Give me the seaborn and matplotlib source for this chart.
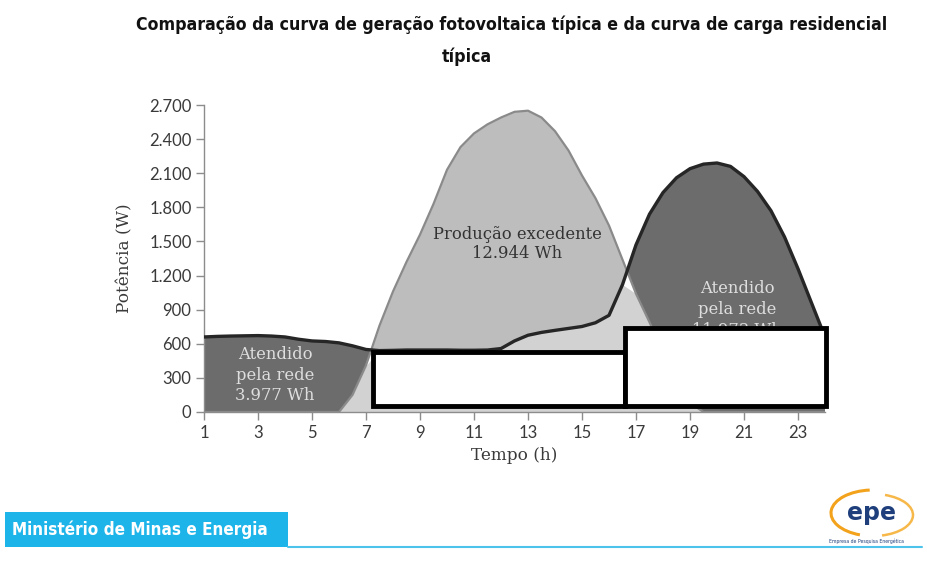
import numpy as np
import pandas as pd
import seaborn as sns
import matplotlib
matplotlib.use("Agg")
import matplotlib.pyplot as plt
from matplotlib.patches import Rectangle, Arc
from matplotlib.ticker import FuncFormatter

# ---------------- data ----------------
hours = [1, 1.5, 2, 2.5, 3, 3.5, 4, 4.5, 5, 5.5, 6, 6.5, 7, 7.5, 8, 8.5, 9, 9.5,
         10, 10.5, 11, 11.5, 12, 12.5, 13, 13.5, 14, 14.5, 15, 15.5, 16, 16.5,
         17, 17.5, 18, 18.5, 19, 19.5, 20, 20.5, 21, 21.5, 22, 22.5, 23, 23.5, 24]
load_w = [660, 665, 668, 670, 672, 668, 660, 640, 625, 620, 608, 582, 550, 540,
          542, 545, 545, 545, 545, 543, 543, 545, 558, 625, 675, 700, 718, 735,
          752, 785, 850, 1120, 1470, 1740, 1930, 2060, 2140, 2180, 2190, 2160,
          2070, 1940, 1770, 1540, 1260, 960, 660]
pv_w = [0, 0, 0, 0, 0, 0, 0, 0, 0, 0, 0, 150, 410, 760, 1060, 1320, 1560, 1830,
        2130, 2330, 2450, 2530, 2590, 2640, 2650, 2590, 2470, 2300, 2080, 1880,
        1640, 1340, 1040, 790, 520, 280, 80, 0, 0, 0, 0, 0, 0, 0, 0, 0, 0]
x_ticks = [1, 3, 5, 7, 9, 11, 13, 15, 17, 19, 21, 23]
y_ticks = [0, 300, 600, 900, 1200, 1500, 1800, 2100, 2400, 2700]

title_line1 = "Comparação da curva de geração fotovoltaica típica e da curva de carga residencial"
title_line2 = "típica"
label_grid_left = "Atendido\npela rede\n3.977 Wh"
label_excess = "Produção excedente\n12.944 Wh"
label_grid_right = "Atendido\npela rede\n11.973 Wh"
footer_text = "Ministério de Minas e Energia"

# ---------------- figure ----------------
sns.set_theme(style="white")
plt.rcParams["font.family"] = ["DejaVu Sans"]

W, H = 928, 564
fig = plt.figure(figsize=(W / 100, H / 100), dpi=100)
fig.patch.set_facecolor("white")

def fx(px):
    return px / W

def fy(py):
    return 1 - py / H

ax = fig.add_axes([fx(204), fy(412), (825 - 204) / W, (412 - 105) / H])
ax.set_facecolor("white")

df = pd.DataFrame({"hora": hours, "carga": load_w, "pv": pv_w})
x = df["hora"].to_numpy(float)
load = df["carga"].to_numpy(float)
pv = df["pv"].to_numpy(float)

# self-consumption (under both curves)
ax.fill_between(x, 0, np.minimum(pv, load), color="#d2d2d2", lw=0, zorder=1)
# excess production
ax.fill_between(x, load, pv, where=pv >= load, interpolate=True,
                color="#bdbdbd", lw=0, zorder=1)
# served by grid
ax.fill_between(x, pv, load, where=load >= pv, interpolate=True,
                color="#6c6c6c", lw=0, zorder=1)

long = pd.concat([
    pd.DataFrame({"hora": x, "W": pv, "serie": "Geração"}),
    pd.DataFrame({"hora": x, "W": load, "serie": "Carga"}),
])
sns.lineplot(data=long[long["serie"] == "Geração"], x="hora", y="W",
             color="#8a8a8a", lw=1.6, ax=ax, legend=False, zorder=2)
sns.lineplot(data=long[long["serie"] == "Carga"], x="hora", y="W",
             color="#262626", lw=2.4, ax=ax, legend=False, zorder=3)

ax.set_xlim(1, 24)
ax.set_ylim(0, 2700)
ax.set_xticks(x_ticks)
ax.set_yticks(y_ticks)
ax.yaxis.set_major_formatter(FuncFormatter(lambda v, p: f"{int(v):,}".replace(",", ".")))
for s in ["top", "right"]:
    ax.spines[s].set_visible(False)
for s in ["left", "bottom"]:
    ax.spines[s].set_color("#8c8c8c")
    ax.spines[s].set_linewidth(1.0)
ax.tick_params(axis="both", which="major", direction="out", length=6, width=1,
               color="#8c8c8c", labelsize=12, labelcolor="#3a3a3a", pad=3,
               bottom=True, left=True)
for lab in ax.get_xticklabels() + ax.get_yticklabels():
    lab.set_family(["Lato", "DejaVu Sans"])

ax.set_xlabel("Tempo (h)", family=["DejaVu Serif"], fontsize=12.2, color="#3a3a3a", labelpad=5)
ax.set_ylabel("Potência (W)", family=["DejaVu Serif"], fontsize=12.2, color="#3a3a3a", labelpad=11)
ax.grid(False)

# area labels
ax.text(3.63, 325, label_grid_left, ha="center", va="center", color="#dedede",
        family=["DejaVu Serif"], fontsize=11.8, linespacing=1.27, zorder=4)
ax.text(12.6, 1478, label_excess, ha="center", va="center", color="#333333",
        family=["DejaVu Serif"], fontsize=11.8, linespacing=1.2, zorder=4)
ax.text(20.74, 900, label_grid_right, ha="center", va="center", color="#dedede",
        family=["DejaVu Serif"], fontsize=11.8, linespacing=1.3, zorder=4)

# white masking boxes (as in the reference)
for (x0, y0, x1, y1) in [(373, 352, 625, 406), (625, 328, 826, 406)]:
    ax.add_patch(Rectangle((fx(x0), fy(y1)), fx(x1) - fx(x0), fy(y0) - fy(y1),
                           transform=fig.transFigure, clip_on=False,
                           facecolor="white", edgecolor="black", lw=3.5, zorder=10))

# title
title_font = ["DejaVu Sans"]
t1 = fig.text(fx(512), fy(25), title_line1, ha="center", va="center",
              fontsize=12.5, weight="bold", family=title_font, color="#111111",
              fontstretch="condensed")
t2 = fig.text(fx(467), fy(57), title_line2, ha="center", va="center",
              fontsize=12.5, weight="bold", family=title_font, color="#111111",
              fontstretch="condensed")
fig.canvas.draw()
r = fig.canvas.get_renderer()
wpx = t1.get_window_extent(r).width
scale = 751 / wpx
t1.set_fontsize(12.5 * scale)
t2.set_fontsize(12.5 * scale)

# footer
ax.add_patch(Rectangle((fx(5), fy(547)), fx(288) - fx(5), fy(512) - fy(547),
                       transform=fig.transFigure, clip_on=False,
                       facecolor="#1db4ea", edgecolor="none", zorder=10))
fig.add_artist(plt.Line2D([fx(288), fx(922)], [fy(547), fy(547)],
                          color="#4bc3ea", lw=1.5))
ft = fig.text(fx(12), fy(530), footer_text, ha="left", va="center",
              color="white", weight="bold", family=title_font, fontsize=12,
              fontstretch="condensed")
fig.canvas.draw()
fw = ft.get_window_extent(fig.canvas.get_renderer()).width
ft.set_fontsize(12 * 256 / fw)

# epe logo
fig.add_artist(Arc((fx(873), fy(513)), fx(84), 46 / H, theta1=95, theta2=250,
                   color="#f3a21c", lw=2.2, transform=fig.transFigure))
fig.add_artist(Arc((fx(873), fy(515)), fx(80), 42 / H, theta1=-75, theta2=70,
                   color="#f7b84a", lw=1.8, transform=fig.transFigure))
fig.text(fx(872), fy(513), "epe", ha="center", va="center", color="#1e3f7c",
         fontsize=17, weight="bold", family=["DejaVu Sans"])
fig.text(fx(866), fy(541), "Empresa de Pesquisa Energética", ha="center",
         va="center", color="#1e3f7c", fontsize=3.3, family=["DejaVu Sans"])

fig.savefig("out.png", dpi=100, facecolor="white")
